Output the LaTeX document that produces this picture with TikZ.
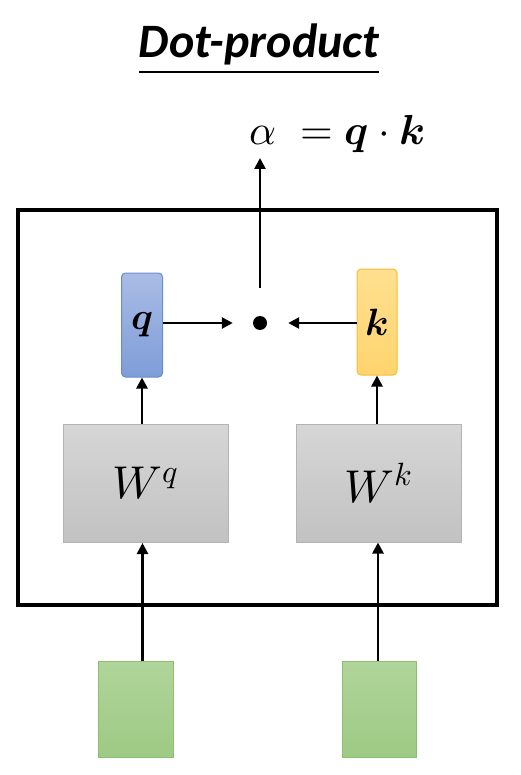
\documentclass[tikz,border=0pt]{standalone}
\usepackage{amsmath}
\usepackage{fontspec}
\usepackage{unicode-math}
\setmathfont{Latin Modern Math}
\newfontfamily\titlefont{Carlito}
\usetikzlibrary{arrows.meta}
\definecolor{qfillT}{HTML}{A9BCE6}
\definecolor{qfillB}{HTML}{7E9DD8}
\definecolor{qdraw}{HTML}{6A8CCB}
\definecolor{kfillT}{HTML}{FFE08F}
\definecolor{kfillB}{HTML}{FFD46E}
\definecolor{kdraw}{HTML}{F2BE3C}
\definecolor{wfillT}{HTML}{D6D6D6}
\definecolor{wfillB}{HTML}{C2C2C2}
\definecolor{wdraw}{HTML}{B4B4B4}
\definecolor{gfillT}{HTML}{B0D59A}
\definecolor{gfillB}{HTML}{9DCA84}
\definecolor{gdraw}{HTML}{8DBF70}
\tikzset{
  arr/.style={line width=2.6pt,-{Triangle[length=11pt,width=11pt]}},
  vecbox/.style={rounded corners=4pt,line width=1pt,inner sep=0pt},
  wbox/.style={draw=wdraw,line width=1pt,top color=wfillT,bottom color=wfillB,minimum width=165pt,minimum height=118pt,inner sep=0pt},
  gbox/.style={draw=gdraw,line width=1pt,top color=gfillT,bottom color=gfillB,minimum width=75pt,minimum height=96pt,inner sep=0pt},
}
\begin{document}
\begin{tikzpicture}[x=1pt,y=-1pt]
\useasboundingbox[fill=white] (0,0) rectangle (520,775);
% title
\node[anchor=base,inner sep=0pt] (title) at (259,58) {\titlefont\bfseries\itshape\fontsize{48}{52}\selectfont\underline{Dot-product}};
% equation
\node[anchor=base west,inner sep=0pt] (eq) at (249,145) {\fontsize{42}{46}\selectfont$\alpha\ = \symbfit{q}\cdot\symbfit{k}$};
\coordinate (alphatip) at (260,158);
% frame
\node[draw,line width=3.5pt,minimum width=479pt,minimum height=395pt,inner sep=0pt] (frame) at (257.5,407.5) {};
% vectors
\node[vecbox,draw=qdraw,top color=qfillT,bottom color=qfillB,minimum width=41pt,minimum height=104pt] (q) at (142,325) {\fontsize{38}{42}\selectfont$\symbfit{q}$};
\node[vecbox,draw=kdraw,top color=kfillT,bottom color=kfillB,minimum width=40pt,minimum height=106pt] (k) at (377,322) {\fontsize{38}{42}\selectfont$\symbfit{k}$};
\node[circle,fill=black,inner sep=0pt,minimum size=14pt] (dot) at (260,323) {};
% weight boxes
\node[wbox] (Wq) at (145.5,483.5) {\fontsize{46}{50}\selectfont$W^{q}$};
\node[wbox] (Wk) at (378.5,483) {\fontsize{46}{50}\selectfont$W^{k}$};
% inputs
\node[gbox] (gL) at (135.5,709) {};
\node[gbox,minimum width=74pt] (gR) at (379,709) {};
% connectors
\draw[arr] ([xshift=7pt]gL.north) -- ([xshift=7pt]gL.north |- Wq.south);
\draw[arr] ([xshift=-1pt]gR.north) -- ([xshift=-1pt]gR.north |- Wk.south);
\draw[arr] (q.south |- Wq.north) -- (q.south);
\draw[arr] (k.south |- Wk.north) -- (k.south);
\draw[arr,shorten >=20pt] (q.east |- dot) -- (dot.west);
\draw[arr,shorten >=21pt] (k.west |- dot) -- (dot.east);
\draw[arr,shorten <=28pt] (dot.north) -- (alphatip);
\end{tikzpicture}
\end{document}
